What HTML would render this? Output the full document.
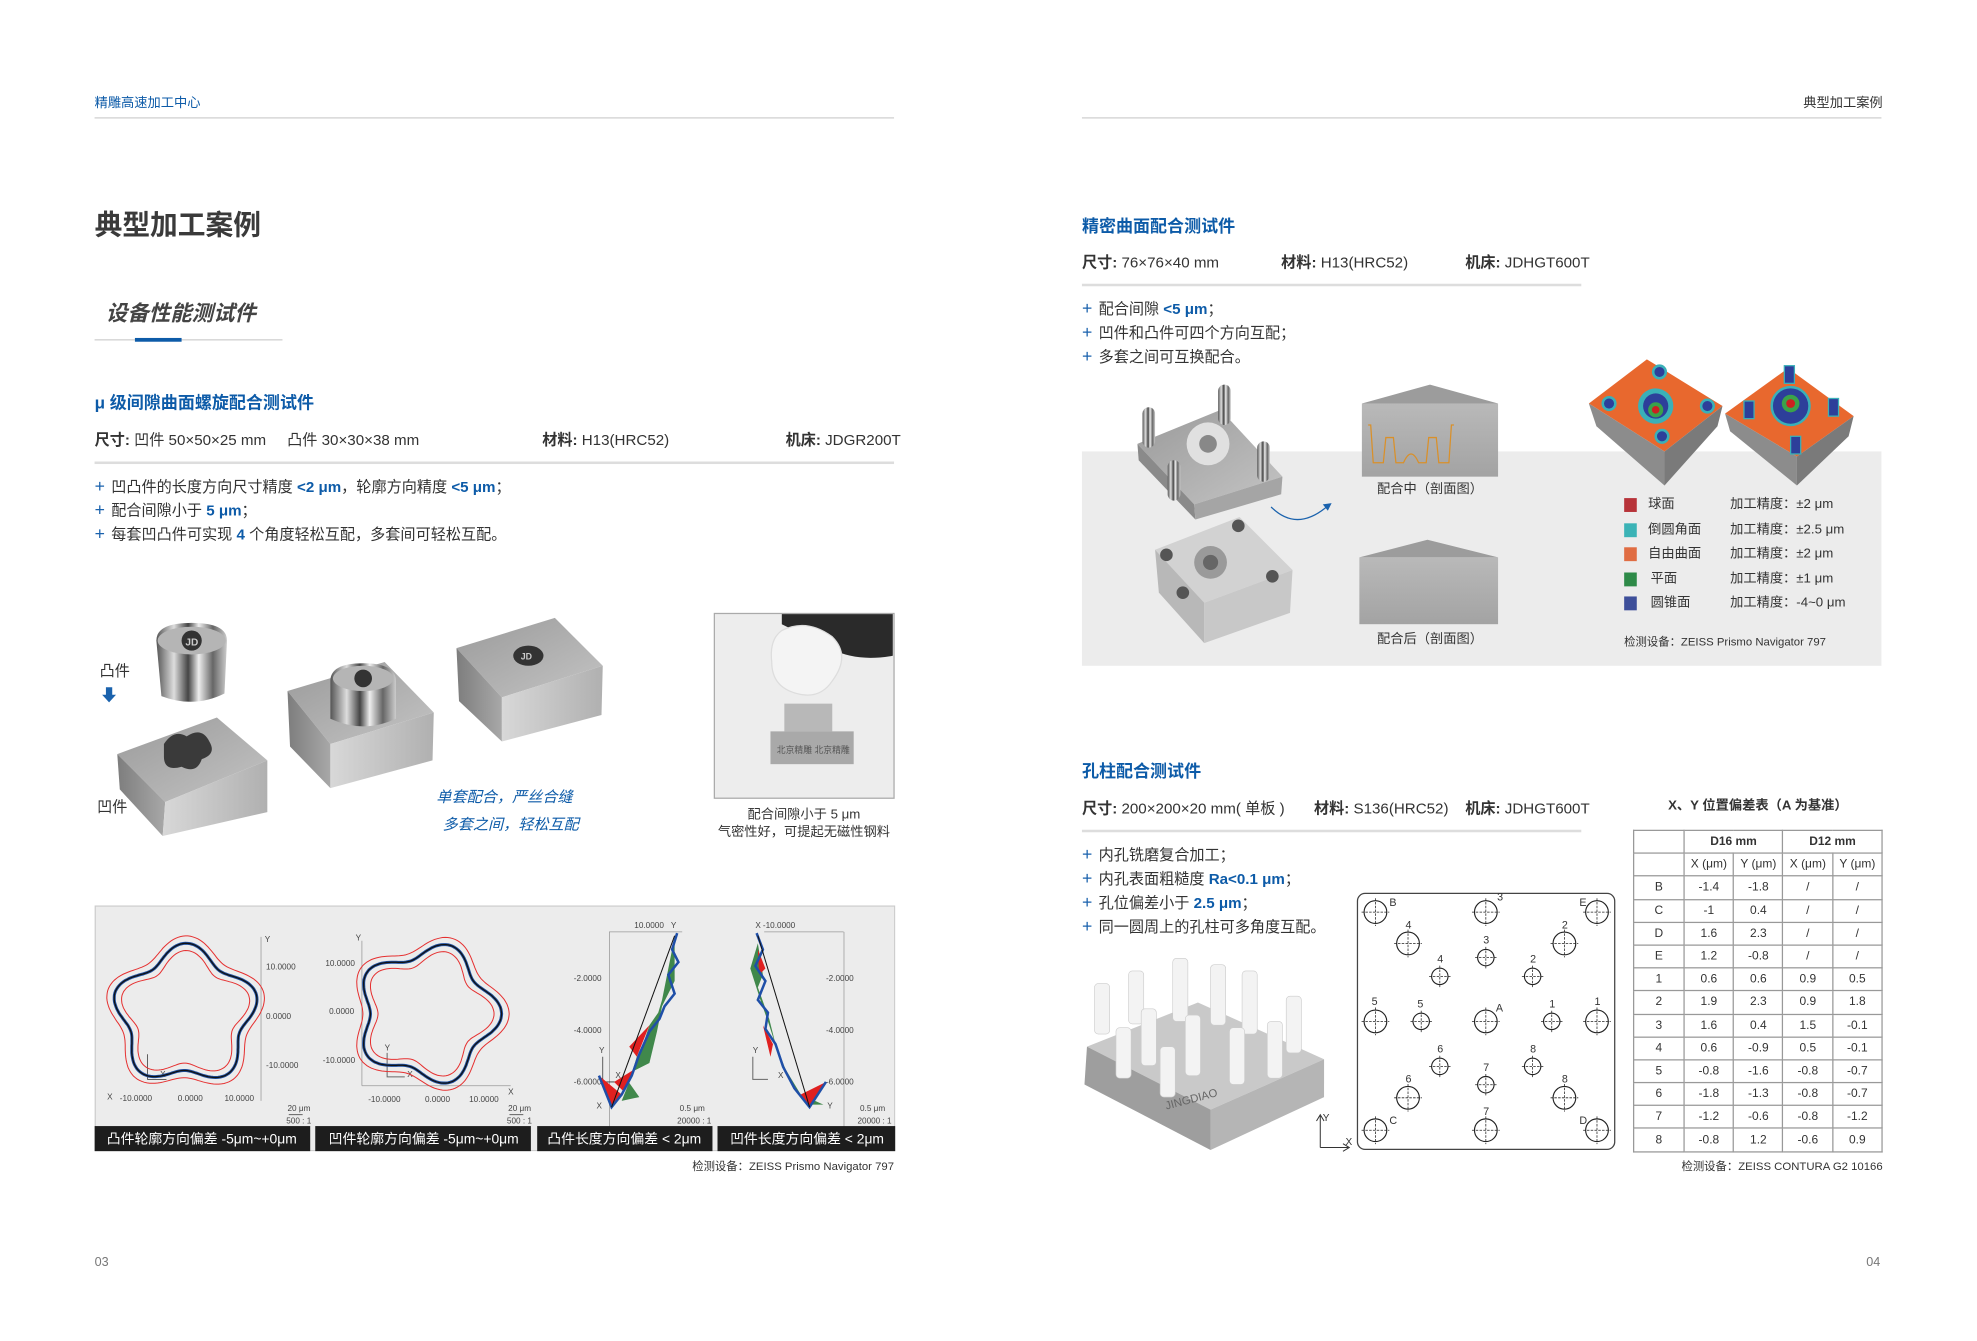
<!DOCTYPE html>
<html><head><meta charset="utf-8">
<style>
html,body{margin:0;padding:0;background:#fff;}
body{width:1977px;height:1341px;overflow:hidden;position:relative;}
#pg{position:absolute;left:0;top:0;width:1560px;height:1058px;transform:scale(1.261);transform-origin:0 0;font-family:"Liberation Sans","Noto Sans CJK SC",sans-serif;color:#333;}
.a{position:absolute;white-space:nowrap;line-height:1;}
.b{color:#0d5ba8;}
.hl{position:absolute;height:1px;background:#cfcfcf;}
.t12{font-size:12px;}
.pl{color:#1a62ad;font-size:14px;margin-right:5px;}
table.dt{position:absolute;left:1295px;top:658px;width:198px;border-collapse:collapse;font-size:9.5px;color:#333;}
table.dt td{border:1px solid #999;height:17.2px;padding:0;text-align:center;}
</style></head><body>
<div id="pg">
<div class="a b" style="left:75px;top:77px;font-size:10.5px;">精雕高速加工中心</div>
<div class="hl" style="left:75px;top:93px;width:634px;"></div>
<div class="a" style="left:1430px;top:77px;font-size:10.5px;">典型加工案例</div>
<div class="hl" style="left:858px;top:93px;width:634px;"></div>

<div class="a" style="left:75px;top:168px;font-size:22px;font-weight:bold;color:#3a3a3a;">典型加工案例</div>
<div class="a" style="left:84px;top:240px;font-size:17px;font-weight:bold;font-style:italic;color:#444;">设备性能测试件</div>
<div class="hl" style="left:75px;top:269px;width:149px;"></div>
<div style="position:absolute;left:107px;top:268px;width:37px;height:3px;background:#0d5ba8;"></div>

<div class="a b" style="left:75px;top:313px;font-size:13.5px;font-weight:bold;">μ 级间隙曲面螺旋配合测试件</div>
<div class="a t12" style="left:75px;top:343px;"><b>尺寸:</b> 凹件 50×50×25 mm &nbsp;&nbsp;&nbsp; 凸件 30×30×38 mm</div>
<div class="a t12" style="left:430px;top:343px;"><b>材料:</b> H13(HRC52)</div>
<div class="a t12" style="left:623px;top:343px;"><b>机床:</b> JDGR200T</div>
<div class="hl" style="left:75px;top:366px;width:634px;height:2px;background:#ddd;"></div>
<div class="a t12" style="left:75px;top:378px;"><span class="pl">+</span>凹凸件的长度方向尺寸精度 <b class="b">&lt;2 μm</b>，轮廓方向精度 <b class="b">&lt;5 μm</b>；</div>
<div class="a t12" style="left:75px;top:397px;"><span class="pl">+</span>配合间隙小于 <b class="b">5 μm</b>；</div>
<div class="a t12" style="left:75px;top:416px;"><span class="pl">+</span>每套凹凸件可实现 <b class="b">4</b> 个角度轻松互配，多套间可轻松互配。</div>

<svg style="position:absolute;left:0;top:0" width="1560" height="1058">
<defs>
<linearGradient id="gT" x1="0" y1="0" x2="1" y2="1"><stop offset="0" stop-color="#9a9a9a"/><stop offset="1" stop-color="#c4c4c4"/></linearGradient>
<linearGradient id="gF" x1="0" y1="0" x2="1" y2="0"><stop offset="0" stop-color="#d8d8d8"/><stop offset="1" stop-color="#b0b0b0"/></linearGradient>
<linearGradient id="gL" x1="0" y1="0" x2="1" y2="0"><stop offset="0" stop-color="#7d7d7d"/><stop offset="1" stop-color="#a8a8a8"/></linearGradient>
<linearGradient id="gC" x1="0" y1="0" x2="1" y2="0"><stop offset="0" stop-color="#555"/><stop offset=".25" stop-color="#ddd"/><stop offset=".45" stop-color="#444"/><stop offset=".6" stop-color="#eee"/><stop offset=".8" stop-color="#666"/><stop offset="1" stop-color="#ccc"/></linearGradient>
<linearGradient id="gS" x1="0" y1="0" x2="0" y2="1"><stop offset="0" stop-color="#b9b9b9"/><stop offset="1" stop-color="#a3a3a3"/></linearGradient>
</defs>
<polygon points="93,598 172,569 212,603 131,636" fill="url(#gT)"/>
<polygon points="93,598 131,636 129,663 95,626" fill="url(#gL)"/>
<polygon points="131,636 212,603 212,644 129,663" fill="url(#gF)"/>
<path d="M130,590 q8,-12 18,-6 q12,-8 18,4 q6,10 -6,14 q-4,12 -16,6 q-14,4 -14,-8 z" fill="#3a3a3a"/>
<path d="M124,508 q0,-14 28,-14 q28,0 28,14 l-2,42 q-24,12 -50,2 z" fill="url(#gC)"/>
<ellipse cx="152" cy="508" rx="27" ry="11" fill="#b5b5b5"/>
<circle cx="152" cy="508" r="8" fill="#333"/>
<text x="147" y="512" font-size="8" fill="#ccc" font-weight="bold">JD</text>
<polygon points="84,545 89,545 89,551 92,551 86.5,557 81,551 84,551" fill="#1a62ad"/>
<polygon points="228,548 305,525 344,565 262,590" fill="url(#gT)"/>
<polygon points="228,548 262,590 262,625 230,592" fill="url(#gL)"/>
<polygon points="262,590 344,565 343,603 262,625" fill="url(#gF)"/>
<path d="M262,540 q0,-14 26,-14 q26,0 26,14 l0,30 q-26,12 -52,0 z" fill="url(#gC)"/>
<ellipse cx="288" cy="538" rx="24" ry="10" fill="#b5b5b5"/>
<circle cx="288" cy="538" r="7" fill="#333"/>
<polygon points="362,514 440,490 478,528 398,553" fill="url(#gT)"/>
<polygon points="362,514 398,553 398,588 364,556" fill="url(#gL)"/>
<polygon points="398,553 478,528 477,567 398,588" fill="url(#gF)"/>
<ellipse cx="419" cy="520" rx="12" ry="8" fill="#333"/>
<text x="413" y="523" font-size="7" fill="#ccc" font-weight="bold">JD</text>
<rect x="566.5" y="486.5" width="142.5" height="146.5" fill="#ededed" stroke="#aaa"/>
<path d="M620,487 L708,487 L708,520 Q680,525 660,515 L620,495 z" fill="#2a2a2a"/>
<path d="M620,500 q20,-10 40,5 q15,15 0,35 q-10,15 -28,10 q-20,-5 -20,-25 q-2,-18 8,-25 z" fill="#f4f4f4" stroke="#ddd"/>
<rect x="622" y="558" width="38" height="22" fill="#b8b8b8"/>
<rect x="611" y="580" width="66" height="26" fill="#a9a9a9"/>
<text x="616" y="597" font-size="7" fill="#555">北京精雕 北京精雕</text>
</svg>
<div class="a b" style="left:346px;top:626px;font-size:12px;font-style:italic;">单套配合，严丝合缝</div>
<div class="a b" style="left:351px;top:648px;font-size:12px;font-style:italic;">多套之间，轻松互配</div>
<div class="a t12" style="left:79px;top:526px;">凸件</div>
<div class="a t12" style="left:77px;top:634px;">凹件</div>
<div class="a" style="left:566px;top:641px;width:143px;text-align:center;font-size:10.5px;">配合间隙小于 5 μm</div>
<div class="a" style="left:566px;top:655px;width:143px;text-align:center;font-size:10.5px;">气密性好，可提起无磁性钢料</div>

<svg style="position:absolute;left:75px;top:718px" width="635" height="195">
<rect x="0.5" y="0.5" width="634" height="194" fill="#ececec" stroke="#ccc"/>
<g font-size="6.5" fill="#444" font-family="Liberation Sans">
<line x1="132" y1="25" x2="132" y2="155" stroke="#999" stroke-width=".6"/>
<text x="135" y="29">Y</text><text x="136" y="51">10.0000</text><text x="136" y="90">0.0000</text><text x="136" y="129">-10.0000</text>
<text x="10" y="154">X</text><text x="20" y="155">-10.0000</text><text x="66" y="155">0.0000</text><text x="103" y="155">10.0000</text>
<text x="153" y="163">20 μm</text><text x="152" y="173">500 : 1</text>
<line x1="154" y1="166" x2="165" y2="166" stroke="#333" stroke-width=".6"/>
<path d="M42,118 v20 h15" fill="none" stroke="#333" stroke-width=".6"/><text x="52" y="136">X</text>
<line x1="212" y1="28" x2="212" y2="143" stroke="#999" stroke-width=".6"/><line x1="212" y1="143" x2="330" y2="143" stroke="#999" stroke-width=".6"/>
<text x="207" y="28">Y</text><text x="183" y="48">10.0000</text><text x="186" y="86">0.0000</text><text x="181" y="125">-10.0000</text>
<text x="328" y="150">X</text><text x="217" y="156">-10.0000</text><text x="262" y="156">0.0000</text><text x="297" y="156">10.0000</text>
<text x="328" y="163">20 μm</text><text x="327" y="173">500 : 1</text>
<line x1="329" y1="166" x2="340" y2="166" stroke="#333" stroke-width=".6"/>
<path d="M232,117 v19 h14" fill="none" stroke="#666" stroke-width=".8"/><text x="230" y="115">Y</text><text x="248" y="136">X</text>
<rect x="408" y="21" width="0.6" height="155" fill="#999"/><line x1="408" y1="21" x2="466" y2="21" stroke="#999" stroke-width=".6"/>
<text x="428" y="18">10.0000</text><text x="457" y="18">Y</text>
<text x="380" y="60">-2.0000</text><text x="380" y="101">-4.0000</text><text x="380" y="142">-6.0000</text>
<text x="400" y="117">Y</text><text x="413" y="137">X</text><text x="398" y="161">X</text>
<path d="M403,120 v20 h10" fill="none" stroke="#333" stroke-width=".6"/>
<text x="464" y="163">0.5 μm</text><text x="462" y="173">20000 : 1</text>
<rect x="594" y="21" width="0.6" height="155" fill="#999"/><line x1="531" y1="21" x2="594" y2="21" stroke="#999" stroke-width=".6"/>
<text x="524" y="18">X</text><text x="530" y="18">-10.0000</text>
<text x="580" y="60">-2.0000</text><text x="580" y="101">-4.0000</text><text x="580" y="142">-6.0000</text>
<text x="522" y="117">Y</text><text x="542" y="137">X</text><text x="581" y="161">Y</text>
<path d="M522,120 v18 h12" fill="none" stroke="#666" stroke-width=".8"/>
<text x="607" y="163">0.5 μm</text><text x="605" y="173">20000 : 1</text>
</g>
<g id="fl"></g>
<polygon points="460,25 455,50 450,75 447,85 440,95 435,110 430,120 424,140 418,155 432,152 420,135 440,125 446,100 450,80 460,60" fill="#2e7d3a" opacity=".9"/>
<polygon points="400,135 418,150 410,160" fill="#e02020"/>
<polygon points="440,95 430,120 424,112" fill="#e02020"/>
<polygon points="428,130 420,148 412,140" fill="#e02020"/>
<polyline points="462,22 458,35 463,45 455,55 460,70 452,80 448,90 440,100 432,118 426,135 418,150 410,160 400,135" fill="none" stroke="#1f4fa8" stroke-width="2"/>
<line x1="460" y1="24" x2="410" y2="160" stroke="#111" stroke-width=".8"/>
<polygon points="526,30 530,55 526,65 535,90 540,110 548,130 560,150 578,158 565,158 552,140 543,120 535,95 528,75 520,50" fill="#2e7d3a" opacity=".9"/>
<polygon points="560,150 580,140 567,160" fill="#e02020"/>
<polygon points="530,95 538,110 536,120" fill="#e02020"/>
<polygon points="526,35 532,50 527,55" fill="#e02020"/>
<polyline points="525,22 530,35 524,48 532,60 526,75 534,85 532,98 540,110 546,128 555,145 567,160 580,140" fill="none" stroke="#1f4fa8" stroke-width="2"/>
<line x1="526" y1="24" x2="567" y2="160" stroke="#111" stroke-width=".8"/>
<rect x="0" y="175" width="171" height="20" fill="#1d1d1d"/>
<rect x="175" y="175" width="171" height="20" fill="#1d1d1d"/>
<rect x="351" y="175" width="139" height="20" fill="#1d1d1d"/>
<rect x="494" y="175" width="141" height="20" fill="#1d1d1d"/>
<g fill="#fff" font-size="11" font-family="Liberation Sans,Noto Sans CJK SC,sans-serif" text-anchor="middle">
<text x="85" y="189">凸件轮廓方向偏差 -5μm~+0μm</text>
<text x="261" y="189">凹件轮廓方向偏差 -5μm~+0μm</text>
<text x="420" y="189">凸件长度方向偏差 &lt; 2μm</text>
<text x="565" y="189">凹件长度方向偏差 &lt; 2μm</text>
</g>
</svg>
<div class="a" style="left:500px;top:921px;width:209px;text-align:right;font-size:9px;">检测设备：ZEISS Prismo Navigator 797</div>
<div class="a" style="left:75px;top:997px;font-size:10px;color:#777;">03</div>
<div class="a" style="left:1480px;top:997px;font-size:10px;color:#777;">04</div>

<div class="a b" style="left:858px;top:173px;font-size:13.5px;font-weight:bold;">精密曲面配合测试件</div>
<div class="a t12" style="left:858px;top:202px;"><b>尺寸:</b> 76×76×40 mm</div>
<div class="a t12" style="left:1016px;top:202px;"><b>材料:</b> H13(HRC52)</div>
<div class="a t12" style="left:1162px;top:202px;"><b>机床:</b> JDHGT600T</div>
<div class="hl" style="left:858px;top:225px;width:396px;height:2px;background:#ddd;"></div>
<div class="a t12" style="left:858px;top:237px;"><span class="pl">+</span>配合间隙 <b class="b">&lt;5 μm</b>；</div>
<div class="a t12" style="left:858px;top:256px;"><span class="pl">+</span>凹件和凸件可四个方向互配；</div>
<div class="a t12" style="left:858px;top:275px;"><span class="pl">+</span>多套之间可互换配合。</div>
<div style="position:absolute;left:858px;top:358px;width:634px;height:170px;background:#ececec;"></div>
<svg style="position:absolute;left:0;top:0" width="1560" height="1058">
<polygon points="902,352 968,325 1017,378 947,400" fill="url(#gT)"/>
<polygon points="902,352 947,400 948,412 903,365" fill="#8a8a8a"/>
<polygon points="947,400 1017,378 1016,392 948,412" fill="#a5a5a5"/>
<circle cx="958" cy="352" r="17" fill="#e0e0e0"/><circle cx="958" cy="352" r="7" fill="#888"/>
<rect x="906" y="323" width="10" height="32" rx="5" fill="url(#gC)"/>
<rect x="966" y="305" width="10" height="32" rx="5" fill="url(#gC)"/>
<rect x="997" y="350" width="10" height="32" rx="5" fill="url(#gC)"/>
<rect x="926" y="365" width="10" height="32" rx="5" fill="url(#gC)"/>
<polygon points="916,436 983,410 1025,452 955,478" fill="#d2d2d2"/>
<polygon points="916,436 955,478 955,510 919,470" fill="#b8b8b8"/>
<polygon points="955,478 1025,452 1023,486 955,510" fill="#c8c8c8"/>
<circle cx="960" cy="446" r="13" fill="#9a9a9a"/><circle cx="960" cy="446" r="6" fill="#666"/>
<circle cx="925" cy="440" r="5" fill="#555"/><circle cx="982" cy="417" r="5" fill="#555"/><circle cx="1009" cy="457" r="5" fill="#555"/><circle cx="938" cy="470" r="5" fill="#555"/>
<path d="M1008,402 q20,20 44,0" fill="none" stroke="#1a62ad" stroke-width="1"/><polygon points="1056,399 1049,400 1053,405" fill="#1a62ad"/>
<polygon points="1080,320 1134,305 1188,320" fill="#9c9c9c"/><rect x="1080" y="320" width="108" height="58" fill="url(#gS)"/>
<path d="M1085,337 l2,0 l2,30 h8 l2,-20 h6 l2,20 h6 q6,-14 12,0 h6 l2,-20 h6 l2,20 h8 l2,-30 h2" fill="none" stroke="#d9902a" stroke-width="1"/>
<polygon points="1078,442 1132,428 1188,442" fill="#9c9c9c"/><rect x="1078" y="442" width="110" height="53" fill="url(#gS)"/>
<polygon points="1306,285 1366,322 1320,358 1260,320" fill="#e8682e"/>
<polygon points="1260,320 1320,358 1320,385 1266,338" fill="#8c8c8c"/>
<polygon points="1320,358 1366,322 1362,338 1320,385" fill="#7a7a7a"/>
<circle cx="1313" cy="322" r="14" fill="#3ab0b8"/><circle cx="1313" cy="322" r="10" fill="#2d3f9a"/><circle cx="1313" cy="325" r="6" fill="#3aa24a"/><circle cx="1313" cy="325" r="3" fill="#cc2020"/>
<circle cx="1316" cy="295" r="5" fill="#2d3f9a" stroke="#3ab0b8" stroke-width="2"/><circle cx="1354" cy="322" r="5" fill="#2d3f9a" stroke="#3ab0b8" stroke-width="2"/><circle cx="1276" cy="320" r="5" fill="#2d3f9a" stroke="#3ab0b8" stroke-width="2"/><circle cx="1318" cy="346" r="5" fill="#2d3f9a" stroke="#3ab0b8" stroke-width="2"/>
<polygon points="1418,292 1470,330 1425,362 1368,328" fill="#e8682e"/>
<polygon points="1368,328 1425,362 1425,385 1372,342" fill="#8c8c8c"/>
<polygon points="1425,362 1470,330 1466,346 1425,385" fill="#7a7a7a"/>
<circle cx="1420" cy="322" r="15" fill="#2d3f9a" stroke="#3ab0b8" stroke-width="2"/><circle cx="1420" cy="320" r="7" fill="#3aa24a"/><circle cx="1420" cy="320" r="3.5" fill="#cc2020"/>
<rect x="1415" y="290" width="8" height="14" fill="#2d3f9a" stroke="#3ab0b8"/><rect x="1383" y="318" width="8" height="14" fill="#2d3f9a" stroke="#3ab0b8"/><rect x="1450" y="316" width="8" height="14" fill="#2d3f9a" stroke="#3ab0b8"/><rect x="1420" y="346" width="8" height="14" fill="#2d3f9a" stroke="#3ab0b8"/>
<rect x="1288" y="395" width="10" height="11" fill="#b73339"/>
<rect x="1288" y="415" width="10" height="11" fill="#3bb3b6"/>
<rect x="1288" y="434" width="10" height="11" fill="#e06d43"/>
<rect x="1288" y="454" width="10" height="11" fill="#2e8a48"/>
<rect x="1288" y="473" width="10" height="11" fill="#3e4f9a"/>
</svg>
<div class="a" style="left:1080px;top:383px;width:108px;text-align:center;font-size:10.5px;">配合中（剖面图）</div>
<div class="a" style="left:1080px;top:502px;width:108px;text-align:center;font-size:10.5px;">配合后（剖面图）</div>
<div class="a" style="left:1307px;top:395px;font-size:10.5px;">球面</div>
<div class="a" style="left:1307px;top:415px;font-size:10.5px;">倒圆角面</div>
<div class="a" style="left:1307px;top:434px;font-size:10.5px;">自由曲面</div>
<div class="a" style="left:1309px;top:454px;font-size:10.5px;">平面</div>
<div class="a" style="left:1309px;top:473px;font-size:10.5px;">圆锥面</div>
<div class="a" style="left:1372px;top:395px;font-size:10.5px;">加工精度：±2 μm</div>
<div class="a" style="left:1372px;top:415px;font-size:10.5px;">加工精度：±2.5 μm</div>
<div class="a" style="left:1372px;top:434px;font-size:10.5px;">加工精度：±2 μm</div>
<div class="a" style="left:1372px;top:454px;font-size:10.5px;">加工精度：±1 μm</div>
<div class="a" style="left:1372px;top:473px;font-size:10.5px;">加工精度：-4~0 μm</div>
<div class="a" style="left:1288px;top:505px;font-size:9px;">检测设备：ZEISS Prismo Navigator 797</div>

<div class="a b" style="left:858px;top:605px;font-size:13.5px;font-weight:bold;">孔柱配合测试件</div>
<div class="a t12" style="left:858px;top:635px;"><b>尺寸:</b> 200×200×20 mm( 单板 )</div>
<div class="a t12" style="left:1042px;top:635px;"><b>材料:</b> S136(HRC52)</div>
<div class="a t12" style="left:1162px;top:635px;"><b>机床:</b> JDHGT600T</div>
<div class="hl" style="left:858px;top:658px;width:396px;height:2px;background:#ddd;"></div>
<div class="a t12" style="left:858px;top:670px;"><span class="pl">+</span>内孔铣磨复合加工；</div>
<div class="a t12" style="left:858px;top:689px;"><span class="pl">+</span>内孔表面粗糙度 <b class="b">Ra&lt;0.1 μm</b>；</div>
<div class="a t12" style="left:858px;top:708px;"><span class="pl">+</span>孔位偏差小于 <b class="b">2.5 μm</b>；</div>
<div class="a t12" style="left:858px;top:727px;"><span class="pl">+</span>同一圆周上的孔柱可多角度互配。</div>
<svg style="position:absolute;left:0;top:0" width="1560" height="1058">
<polygon points="862,830 950,795 1050,840 960,880" fill="#c9c9c9"/>
<polygon points="862,830 960,880 960,912 860,860" fill="#9e9e9e"/>
<polygon points="960,880 1050,840 1050,870 960,912" fill="#b5b5b5"/>
<g fill="#f3f3f3" stroke="#ccc" stroke-width=".5">
<rect x="868" y="780" width="12" height="40" rx="3"/><rect x="895" y="770" width="12" height="42" rx="3"/><rect x="930" y="760" width="12" height="50" rx="3"/><rect x="960" y="765" width="12" height="48" rx="3"/>
<rect x="985" y="770" width="12" height="50" rx="3"/><rect x="1020" y="790" width="12" height="45" rx="3"/><rect x="905" y="800" width="12" height="45" rx="3"/><rect x="940" y="805" width="12" height="48" rx="3"/>
<rect x="975" y="815" width="12" height="45" rx="3"/><rect x="1005" y="810" width="12" height="45" rx="3"/><rect x="920" y="830" width="12" height="40" rx="3"/><rect x="885" y="815" width="12" height="40" rx="3"/>
</g>
<text x="925" y="880" font-size="9" fill="#666" transform="rotate(-15 925 880)">JINGDIAO</text>
<path d="M1047,910 v-25 M1044,889 l3,-5 l3,5 M1047,910 h22 M1065,907 l5,3 l-5,3" fill="none" stroke="#333" stroke-width=".8"/>
<text x="1049" y="889" font-size="8" fill="#333">Y</text><text x="1067" y="908" font-size="8" fill="#333">X</text>
<rect x="1076.5" y="708.5" width="204" height="203" rx="6" fill="#fff" stroke="#444" stroke-width="1"/>
<g id="holes" fill="none" stroke="#222" stroke-width=".9"></g>
<g id="hl" font-size="8.5" fill="#333" font-family="Liberation Sans"></g>
</svg>
<div class="a" style="left:1295px;top:634px;width:198px;text-align:center;font-size:10.5px;font-weight:bold;">X、Y 位置偏差表（A 为基准）</div>
<table class="dt">
<tr><td style="width:39px"></td><td colspan="2"><b>D16 mm</b></td><td colspan="2"><b>D12 mm</b></td></tr>
<tr><td></td><td>X (μm)</td><td>Y (μm)</td><td>X (μm)</td><td>Y (μm)</td></tr>
<tr><td>B</td><td>-1.4</td><td>-1.8</td><td>/</td><td>/</td></tr>
<tr><td>C</td><td>-1</td><td>0.4</td><td>/</td><td>/</td></tr>
<tr><td>D</td><td>1.6</td><td>2.3</td><td>/</td><td>/</td></tr>
<tr><td>E</td><td>1.2</td><td>-0.8</td><td>/</td><td>/</td></tr>
<tr><td>1</td><td>0.6</td><td>0.6</td><td>0.9</td><td>0.5</td></tr>
<tr><td>2</td><td>1.9</td><td>2.3</td><td>0.9</td><td>1.8</td></tr>
<tr><td>3</td><td>1.6</td><td>0.4</td><td>1.5</td><td>-0.1</td></tr>
<tr><td>4</td><td>0.6</td><td>-0.9</td><td>0.5</td><td>-0.1</td></tr>
<tr><td>5</td><td>-0.8</td><td>-1.6</td><td>-0.8</td><td>-0.7</td></tr>
<tr><td>6</td><td>-1.8</td><td>-1.3</td><td>-0.8</td><td>-0.7</td></tr>
<tr><td>7</td><td>-1.2</td><td>-0.6</td><td>-0.8</td><td>-1.2</td></tr>
<tr><td>8</td><td>-0.8</td><td>1.2</td><td>-0.6</td><td>0.9</td></tr>
</table>
<div class="a" style="left:1290px;top:921px;width:203px;text-align:right;font-size:9px;">检测设备：ZEISS CONTURA G2 10166</div>
</div>
<script>
(function(){
var NS="http://www.w3.org/2000/svg";
function el(p,t,a){var e=document.createElementNS(NS,t);for(var k in a)e.setAttribute(k,a[k]);p.appendChild(e);return e;}
var fl=document.getElementById('fl');
function flower(cx,cy,R,off,col,w,rot){var d="";for(var i=0;i<=200;i++){var t=i/200*2*Math.PI;var r=R+off+R*0.13*Math.cos(5*(t+rot));var x=cx+r*Math.cos(t),y=cy+r*Math.sin(t)*0.97;d+=(i?"L":"M")+x.toFixed(1)+","+y.toFixed(1);}el(fl,'path',{d:d+"Z",fill:"none",stroke:col,"stroke-width":w});}
[[72,87,0.3],[264,86,0.0]].forEach(function(c){flower(c[0],c[1],52,6,"#e53030",0.8,c[2]);flower(c[0],c[1],52,-6,"#e53030",0.8,c[2]);flower(c[0],c[1],52,0,"#2050a0",2.4,c[2]);flower(c[0],c[1],52,0,"#111",1,c[2]);});
var g=document.getElementById('holes'),lg=document.getElementById('hl');
var X0=1076,Y0=708,W=205,H=204;
var hs=[[.072,.075,1,"B",11,-5],[.499,.075,1,"3",9,-9],[.929,.075,1,"E",-14,-5],[.198,.197,1,"4",-2,-12],[.803,.197,1,"2",-2,-12],[.499,.252,0,"3",-2,-11],[.321,.325,0,"4",-2,-11],[.680,.325,0,"2",-2,-11],[.072,.5,1,"5",-3,-13],[.249,.5,0,"5",-3,-11],[.499,.5,1,"A",8,-8],[.754,.5,0,"1",-2,-11],[.929,.5,1,"1",-2,-13],[.321,.675,0,"6",-2,-11],[.680,.675,0,"8",-2,-11],[.499,.746,0,"7",-2,-11],[.198,.797,1,"6",-2,-12],[.803,.797,1,"8",-2,-12],[.072,.923,1,"C",11,-5],[.499,.923,1,"7",-2,-12],[.929,.923,1,"D",-14,-5]];
hs.forEach(function(h){var x=X0+h[0]*W,y=Y0+h[1]*H,r=h[2]?9:6.5;el(g,'circle',{cx:x,cy:y,r:r});el(g,'line',{x1:x-r-2,y1:y,x2:x+r+2,y2:y,"stroke-dasharray":"2,1","stroke-width":.6});el(g,'line',{x1:x,y1:y-r-2,x2:x,y2:y+r+2,"stroke-dasharray":"2,1","stroke-width":.6});var t=el(lg,'text',{x:x+h[4],y:y+h[5]});t.textContent=h[3];});
})();
</script>
</body></html>
